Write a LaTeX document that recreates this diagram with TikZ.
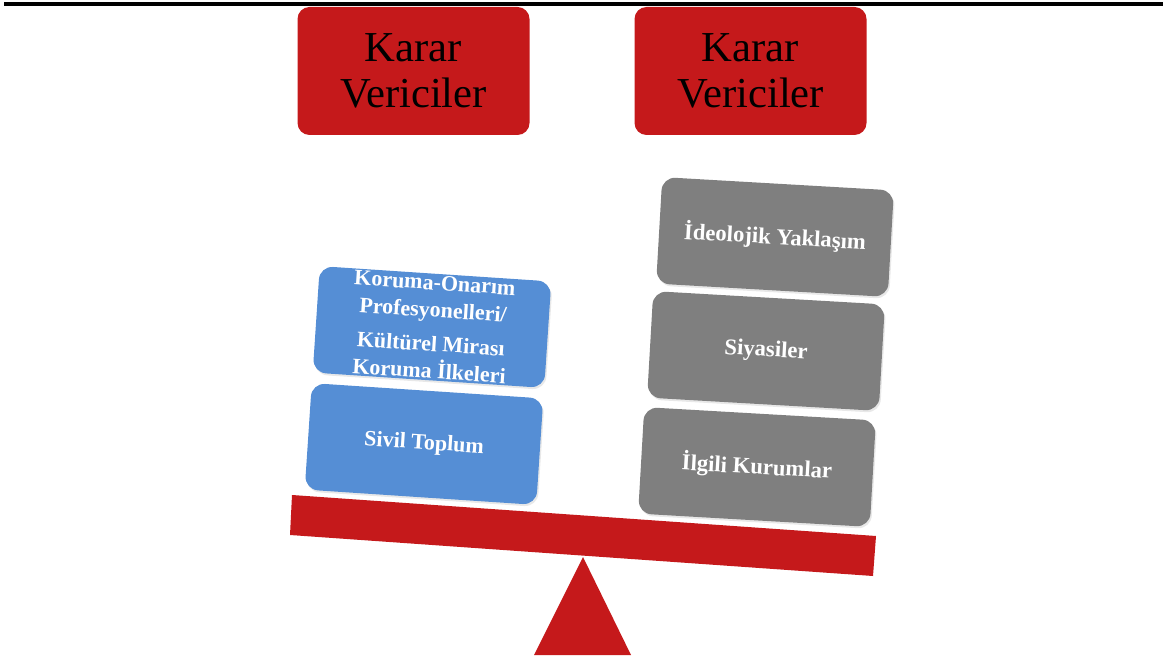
\documentclass[tikz,border=0pt]{standalone}
\usepackage{fontspec}
\setmainfont{Liberation Serif}
\usetikzlibrary{shadows}
\definecolor{kred}{HTML}{C5191B}
\definecolor{kblue}{HTML}{558ED5}
\definecolor{kgray}{HTML}{7F7F7F}
\tikzset{
  topbox/.style={fill=kred, rounded corners=9pt, minimum width=174pt, minimum height=96pt,
    align=center, text=black, font=\fontsize{32}{35}\selectfont, inner sep=0pt},
  bluebox/.style={fill=kblue, rounded corners=10pt, minimum width=174pt, minimum height=80pt,
    align=center, text=white, font=\bfseries\fontsize{16.5}{20.5}\selectfont, inner sep=0pt,
    drop shadow={opacity=0.18, shadow xshift=1pt, shadow yshift=-1.5pt}},
  graybox/.style={bluebox, fill=kgray, font=\bfseries\fontsize{17}{20.5}\selectfont},
  beamcol/.style={fill=kred}
}
\begin{document}
\begin{tikzpicture}[x=0.75pt,y=-0.75pt]
\useasboundingbox (0,0) rectangle (1166,659);
% top rule
\draw[line width=3.2pt] (4,4) -- (1163,4);
% decision makers
\node[topbox] (kv1) at (413.5,71) {Karar\\Vericiler};
\node[topbox] (kv2) at (750.5,71) {Karar\\Vericiler};
% left stack
\node[bluebox, rotate=-3.8] (kor) at (432,327) {Koruma-Onarım\\Profesyonelleri/\\[5pt]Kültürel Mirası\\Koruma İlkeleri};
\node[bluebox, rotate=-3.8] (sivil) at (424,444) {Sivil Toplum};
% right stack
\node[graybox, rotate=-3.3] (ideo) at (775,237) {İdeolojik Yaklaşım};
\node[graybox, rotate=-3.3] (siy) at (766,351) {Siyasiler};
\node[graybox, rotate=-3.3] (ilg) at (757,467) {İlgili Kurumlar};
% beam
\fill[beamcol] (292,495) -- (876,536) -- (873,576) -- (290,535) -- cycle;
% fulcrum
\fill[beamcol] (583,557) -- (631,655) -- (534,655) -- cycle;
\end{tikzpicture}
\end{document}
